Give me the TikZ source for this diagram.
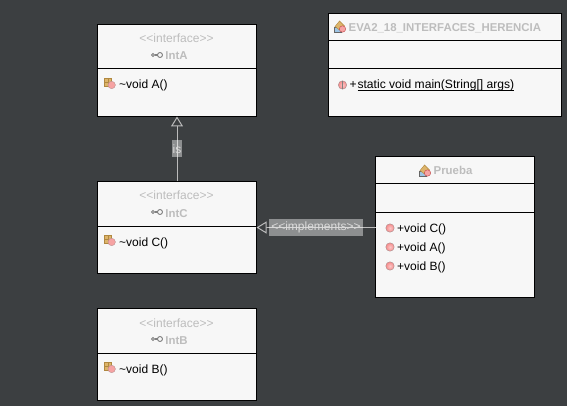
\documentclass[tikz,border=0pt]{standalone}
\usepackage{fontspec}
\setmainfont{Liberation Sans}
\usetikzlibrary{arrows.meta}
\definecolor{bgc}{HTML}{3C3F41}
\definecolor{boxc}{HTML}{F7F7F7}
\definecolor{titlec}{HTML}{BDBDBD}
\definecolor{connc}{HTML}{BBBBBB}
\definecolor{redm}{HTML}{F6A3A3}
\definecolor{tanc}{HTML}{DDB46A}
\definecolor{tand}{HTML}{B08840}
\definecolor{bluec}{HTML}{9CC4E4}
\tikzset{
  x=1pt,y=-1pt,
  umlbox/.style={draw=black,fill=boxc,line width=1pt,anchor=north west,inner sep=0pt,outer sep=0pt},
  divider/.style={draw=black,line width=1pt},
  stereo/.style={text=titlec,font=\fontsize{12}{14}\selectfont,inner sep=0pt,anchor=base},
  title/.style={text=titlec,font=\bfseries\fontsize{11.4}{13}\selectfont,inner sep=0pt,anchor=base},
  member/.style={text=black,font=\fontsize{12}{14}\selectfont,inner sep=0pt,anchor=base west},
  conn/.style={draw=connc,line width=1pt,-{Triangle[open,length=10pt,width=12pt,fill=bgc]}},
  connlabel/.style={fill=white,fill opacity=.42,text opacity=1,text=white!72!gray,inner sep=0pt,
    font=\fontsize{12}{12}\selectfont},
}
\newcommand{\keyicon}[1]{\draw[gray,line width=.9pt] ([xshift=-7pt]#1) circle (1.5pt) (#1) circle (2.5pt);
  \draw[gray,line width=1.6pt] ([xshift=-5.5pt]#1) -- ([xshift=-2.5pt]#1);}
\newcommand{\methodicon}[1]{\shade[inner color=white!40!redm,outer color=redm!85!red,draw=gray!70!redm,line width=.4pt] (#1) circle (4.2pt);}
\newcommand{\staticicon}[1]{\shade[inner color=white!40!redm,outer color=redm!85!red,draw=gray!70!redm,line width=.4pt] (#1) circle (4.2pt);
  \draw[gray,line width=.4pt] ([yshift=-4pt]#1) -- ([yshift=4pt]#1);}
\newcommand{\pkgicon}[1]{%
  \fill[tanc,draw=tand,line width=.5pt] ([shift={(-6,-6)}]#1) rectangle ([shift={(1.5,2)}]#1);
  \draw[tand,line width=.4pt] ([shift={(-2.2,-6)}]#1) -- ([shift={(-2.2,2)}]#1) ([shift={(-6,-2)}]#1) -- ([shift={(1.5,-2)}]#1);
  \fill[redm,draw=gray!50!redm,line width=.4pt] ([shift={(1.7,1)}]#1) circle (3.7pt);}
\newcommand{\classicon}[1]{%
  \fill[bluec,draw=gray!80!black,line width=.4pt] ([shift={(-5.5,0)}]#1) -- ([shift={(-5.5,5)}]#1) -- ([shift={(1.5,5)}]#1) -- ([shift={(1.5,0)}]#1) -- cycle;
  \fill[tanc,draw=tand,line width=.4pt] ([shift={(-4.5,-0.5)}]#1) -- ([shift={(0,-6)}]#1) -- ([shift={(5,-1)}]#1) -- ([shift={(0,3)}]#1) -- cycle;
  \fill[redm,draw=gray!50!red,line width=.4pt] ([shift={(3,2)}]#1) circle (3.2pt);}
\begin{document}
\begin{tikzpicture}
\useasboundingbox[fill=bgc] (0,0) rectangle (567,406);
% boxes
\node[umlbox,minimum width=159pt,minimum height=92pt] (inta) at (97.5,24.5) {};
\node[umlbox,minimum width=233pt,minimum height=103pt] (eva) at (328.5,13.5) {};
\node[umlbox,minimum width=159pt,minimum height=92pt] (intc) at (97.5,181.5) {};
\node[umlbox,minimum width=159pt,minimum height=141pt] (prueba) at (375.5,156.5) {};
\node[umlbox,minimum width=159pt,minimum height=92pt] (intb) at (97.5,308.5) {};
% dividers
\draw[divider] (97.5,69) -- (256.5,69);
\draw[divider] (97.5,226) -- (256.5,226);
\draw[divider] (97.5,353) -- (256.5,353);
\draw[divider] (328.5,41) -- (561.5,41);
\draw[divider] (328.5,69) -- (561.5,69);
\draw[divider] (375.5,184) -- (534.5,184);
\draw[divider] (375.5,212) -- (534.5,212);
% IntA
\node[stereo] (sa) at (176.5,42.5) {<{}<interface>{}>};
\node[title] (ta) at (176.5,60) {IntA};
\keyicon{160,55}
\pkgicon{110,84}
\node[member] (ma) at (119,89) {\textasciitilde void A()};
% IntC
\node[stereo] (sc) at (176.5,200) {<{}<interface>{}>};
\node[title] (tc) at (176.5,217) {IntC};
\keyicon{160,212}
\pkgicon{110,241}
\node[member] (mc) at (119,246) {\textasciitilde void C()};
% IntB
\node[stereo] (sb) at (176.5,327) {<{}<interface>{}>};
\node[title] (tb) at (176.5,344) {IntB};
\keyicon{160,339}
\pkgicon{110,368}
\node[member] (mb) at (119,373) {\textasciitilde void B()};
% EVA
\classicon{339.5,27}
\node[title,anchor=base west] (te) at (348.5,32) {EVA2\_18\_INTERFACES\_HERENCIA};
\staticicon{342.5,85}
\node[member,font=\fontsize{12.1}{14}\selectfont] (me) at (349.5,89) {+\hspace{.8pt}\underline{\smash{static void main(String[] args)}}};
% Prueba
\classicon{424.5,171}
\node[title,anchor=base west] (tp) at (433.5,175) {Prueba};
\methodicon{390,228}
\methodicon{390,247}
\methodicon{390,266}
\node[member] (m1) at (397,232) {+void C()};
\node[member] (m2) at (397,251) {+void A()};
\node[member] (m3) at (397,270) {+void B()};
% connectors
\coordinate (impl) at (300,227.5);
\draw[conn] (intc.north) -- node[connlabel,midway,minimum width=10pt,minimum height=17pt] (lis) {\raisebox{-1pt}{is}} (inta.south);
\draw[conn] (prueba.west |- impl) -- node[connlabel,midway,minimum width=94pt,minimum height=17pt] (limp) {\raisebox{-1.5pt}{<{}<implements>{}>}} (intc.east |- impl);
\end{tikzpicture}
\end{document}
